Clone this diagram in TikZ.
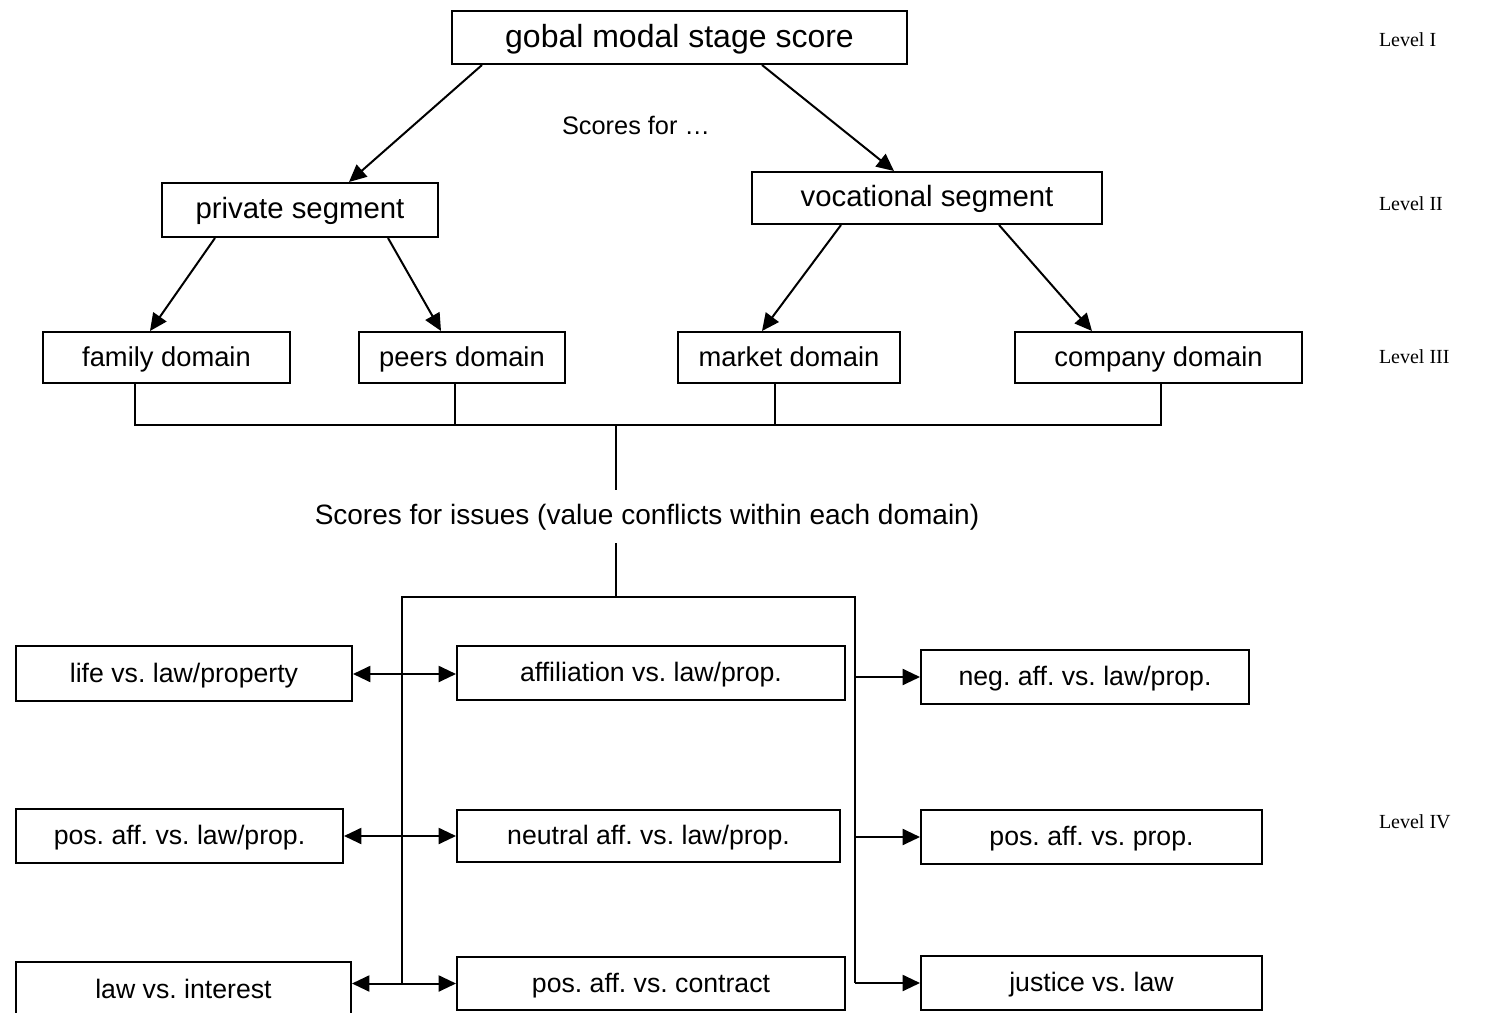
\documentclass[tikz,border=0pt]{standalone}
\usepackage{fontspec}
\setmainfont{Liberation Sans}
\newfontfamily\tms{Liberation Serif}
\usetikzlibrary{arrows.meta,calc}
\frenchspacing
\begin{document}
\begin{tikzpicture}[x=0.75pt,y=-0.75pt,
  line width=1.5pt,
  box/.style={draw,line width=1.5pt,inner sep=0pt,anchor=center,text height=15pt,text depth=2pt},
  arr/.style={-{Triangle[length=13pt,width=12pt]}},
  darr/.style={{Triangle[length=13pt,width=12pt]}-{Triangle[length=13pt,width=12pt]}},
  fa/.style={font=\fontsize{24}{28}\selectfont,text height=17pt,text depth=2pt},
  fb/.style={font=\fontsize{22}{26}\selectfont},
  fc/.style={font=\fontsize{20.5}{24}\selectfont},
  fd/.style={font=\fontsize{20}{24}\selectfont},
  lvl/.style={font=\tms\fontsize{15}{18}\selectfont,anchor=west,inner sep=0pt}]
\useasboundingbox (0,0) rectangle (1510,1013);
% level I
\node[box,fa,minimum width=341.25pt,minimum height=39.75pt] (top) at (679.5,37.5) {gobal modal stage score};
% level II
\node[box,fb,minimum width=207pt,minimum height=40.5pt] (priv) at (300,210) {private segment};
\node[box,fb,minimum width=262.5pt,minimum height=39pt] (voc) at (927,198) {vocational segment};
% level III
\node[box,fc,minimum width=185.25pt,minimum height=38.25pt] (fam) at (166.5,357.5) {family domain};
\node[box,fc,minimum width=154.5pt,minimum height=38.25pt] (peers) at (462,357.5) {peers domain};
\node[box,fc,minimum width=166.5pt,minimum height=38.25pt] (market) at (789,357.5) {market domain};
\node[box,fc,minimum width=215.25pt,minimum height=38.25pt] (company) at (1158.5,357.5) {company domain};
% texts
\node[font=\fontsize{19}{23}\selectfont,inner sep=0pt] (sf) at (636,125) {Scores for \ldots};
\node[font=\fontsize{21}{25}\selectfont,inner sep=0pt] (issues) at (647,517) {Scores for issues (value conflicts within each domain)};
% level IV
\node[box,fd,minimum width=252pt,minimum height=41.25pt] (life) at (184,673.5) {life vs. law/property};
\node[box,fd,minimum width=245.25pt,minimum height=40.5pt] (posl) at (179.5,836) {pos. aff. vs. law/prop.};
\node[box,fd,minimum width=251.25pt,minimum height=42pt] (lawint) at (183.5,990) {law vs. interest};
\node[box,fd,minimum width=291pt,minimum height=40.5pt] (aff) at (651,673) {affiliation vs. law/prop.};
\node[box,fd,minimum width=287.25pt,minimum height=39pt] (neu) at (648.5,836) {neutral aff. vs. law/prop.};
\node[box,fd,minimum width=291pt,minimum height=39.75pt] (con) at (651,983.5) {pos. aff. vs. contract};
\node[box,fd,minimum width=246pt,minimum height=40.5pt] (neg) at (1085,677) {neg. aff. vs. law/prop.};
\node[box,fd,minimum width=255.75pt,minimum height=40.5pt] (posp) at (1091.5,837) {pos. aff. vs. prop.};
\node[box,fd,minimum width=255.75pt,minimum height=40.5pt] (just) at (1091.5,983) {justice vs. law};
% level labels
\node[lvl] (l1) at (1378,40) {Level I};
\node[lvl] (l2) at (1378,204) {Level II};
\node[lvl] (l3) at (1378,357) {Level III};
\node[lvl] (l4) at (1378,822) {Level IV};
% tree arrows
\draw[arr] ($(top.south west)+(31,0)$) -- ($(priv.north west)+(188,0)$);
\draw[arr] ($(top.south west)+(311,0)$) -- ($(voc.north west)+(143,0)$);
\draw[arr] ($(priv.south west)+(54,0)$) -- ($(fam.north west)+(108,0)$);
\draw[arr] ($(priv.south west)+(227,0)$) -- ($(peers.north west)+(83,0)$);
\draw[arr] ($(voc.south west)+(90,0)$) -- ($(market.north west)+(85,0)$);
\draw[arr] ($(voc.south west)+(248,0)$) -- ($(company.north west)+(78,0)$);
% bracket
\coordinate (bar) at (616,424);
\coordinate (u1) at (616,490);
\coordinate (u2) at (616,543);
\coordinate (ftm) at (616,597);
\coordinate (ftl) at (402,597);
\coordinate (ftr) at (855,597);
\coordinate (fl) at (402,983);
\coordinate (fr) at (855,983);
\draw ($(fam.south west)+(93,0)$) -- ($(fam.south west)+(93,41)$) -- ($(company.south west)+(147,41)$) -- ($(company.south west)+(147,0)$);
\draw ($(peers.south west)+(97,0)$) -- ($(peers.south west)+(97,41)$);
\draw ($(market.south west)+(98,0)$) -- ($(market.south west)+(98,41)$);
\draw (bar) -- (u1);
\draw (u2) -- (ftm);
\draw (fl) -- (ftl) -- (ftr) -- (fr);
% level IV arrows
\draw[darr] (life.east |- 0,674) -- (aff.west |- 0,674);
\draw[darr] (posl.east) -- (neu.west);
\draw[darr] (lawint.east |- con.west) -- (con.west);
\draw[arr] (neg.west -| fr) -- (neg.west);
\draw[arr] (posp.west -| fr) -- (posp.west);
\draw[arr] (just.west -| fr) -- (just.west);
\end{tikzpicture}
\end{document}
